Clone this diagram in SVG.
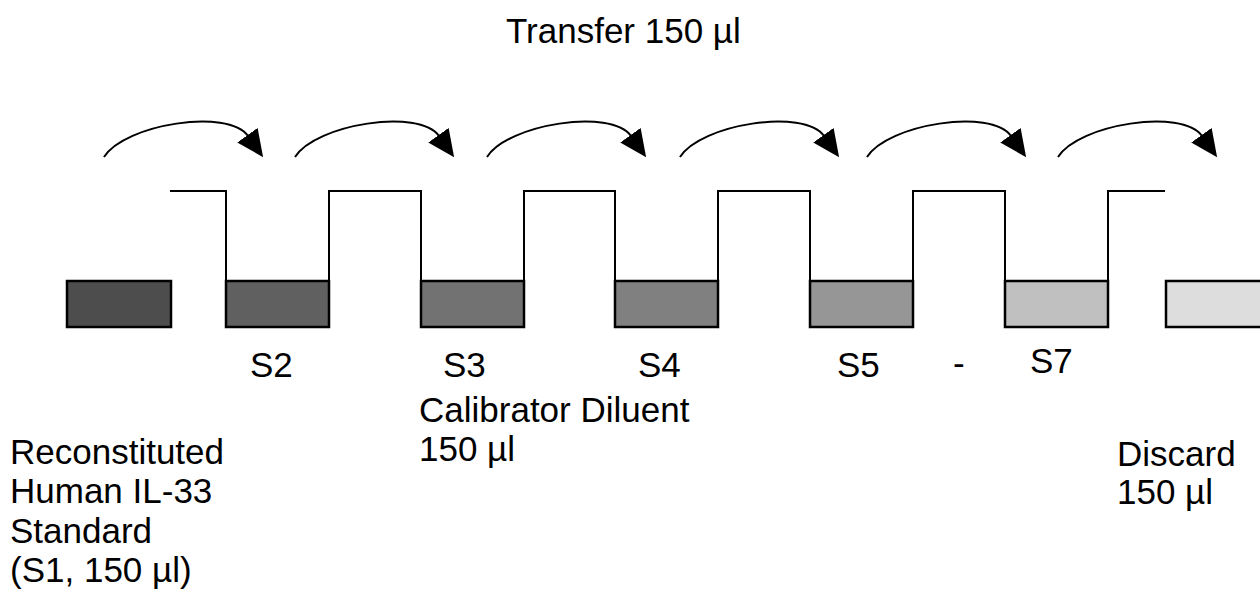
<svg xmlns="http://www.w3.org/2000/svg" width="1260" height="594" viewBox="0 0 1260 594">
<style>
text{font-family:"Liberation Sans",Arial,sans-serif;font-size:35px;fill:#000}
.tube{stroke:#000;stroke-width:2.5}
.wall{fill:none;stroke:#000;stroke-width:2}
.arc{fill:none;stroke:#000;stroke-width:2}
</style>
<defs>
<marker id="ah" markerUnits="userSpaceOnUse" markerWidth="28" markerHeight="26" viewBox="0 0 28 26" refX="1" refY="12.5" orient="auto">
<path d="M0,0 L27,12.5 L0,25 Z" fill="#000"/>
</marker>
<path id="arcp" d="M0,0 C21,-33 124,-49 144,-21" class="arc" marker-end="url(#ah)"/>
</defs>
<rect width="1260" height="594" fill="#fff"/>
<g id="title"><text x="506" y="43">Transfer 150 µl</text></g>
<g id="connectors">
<use href="#arcp" x="104" y="157"/>
<use href="#arcp" x="295" y="157"/>
<use href="#arcp" x="487" y="157"/>
<use href="#arcp" x="680" y="157"/>
<use href="#arcp" x="867" y="157"/>
<use href="#arcp" x="1058" y="157"/>
<path class="wall" d="M170,191 H226 V281 M329,281 V191 H421 V281 M524,281 V191 H615 V281 M718,281 V191 H810 V281 M913,281 V191 H1005 V281 M1108,281 V191 H1165"/>
</g>
<g id="s1"><rect class="tube" x="67" y="281" width="104" height="46" fill="#4d4d4d"/></g>
<g id="s2"><rect class="tube" x="226" y="281" width="103" height="46" fill="#606060"/><text x="250" y="377">S2</text></g>
<g id="s3"><rect class="tube" x="421" y="281" width="103" height="46" fill="#727272"/><text x="443" y="377">S3</text></g>
<g id="s4"><rect class="tube" x="615" y="281" width="103" height="46" fill="#808080"/><text x="638" y="377">S4</text></g>
<g id="s5"><rect class="tube" x="810" y="281" width="103" height="46" fill="#969696"/><text x="837" y="377">S5</text></g>
<g id="dash"><text x="953" y="375">-</text></g>
<g id="s7"><rect class="tube" x="1005" y="281" width="103" height="46" fill="#c0c0c0"/><text x="1030" y="373">S7</text></g>
<g id="discardTube"><rect class="tube" x="1166" y="281" width="100" height="46" fill="#dddddd"/></g>
<g id="standardLabel">
<text x="10" y="464">Reconstituted</text>
<text x="10" y="503">Human IL-33</text>
<text x="10" y="543">Standard</text>
<text x="10" y="582">(S1, 150 µl)</text>
</g>
<g id="diluentLabel">
<text x="419" y="422">Calibrator Diluent</text>
<text x="419" y="461">150 µl</text>
</g>
<g id="discardLabel">
<text x="1117" y="466">Discard</text>
<text x="1117" y="504">150 µl</text>
</g>
</svg>
